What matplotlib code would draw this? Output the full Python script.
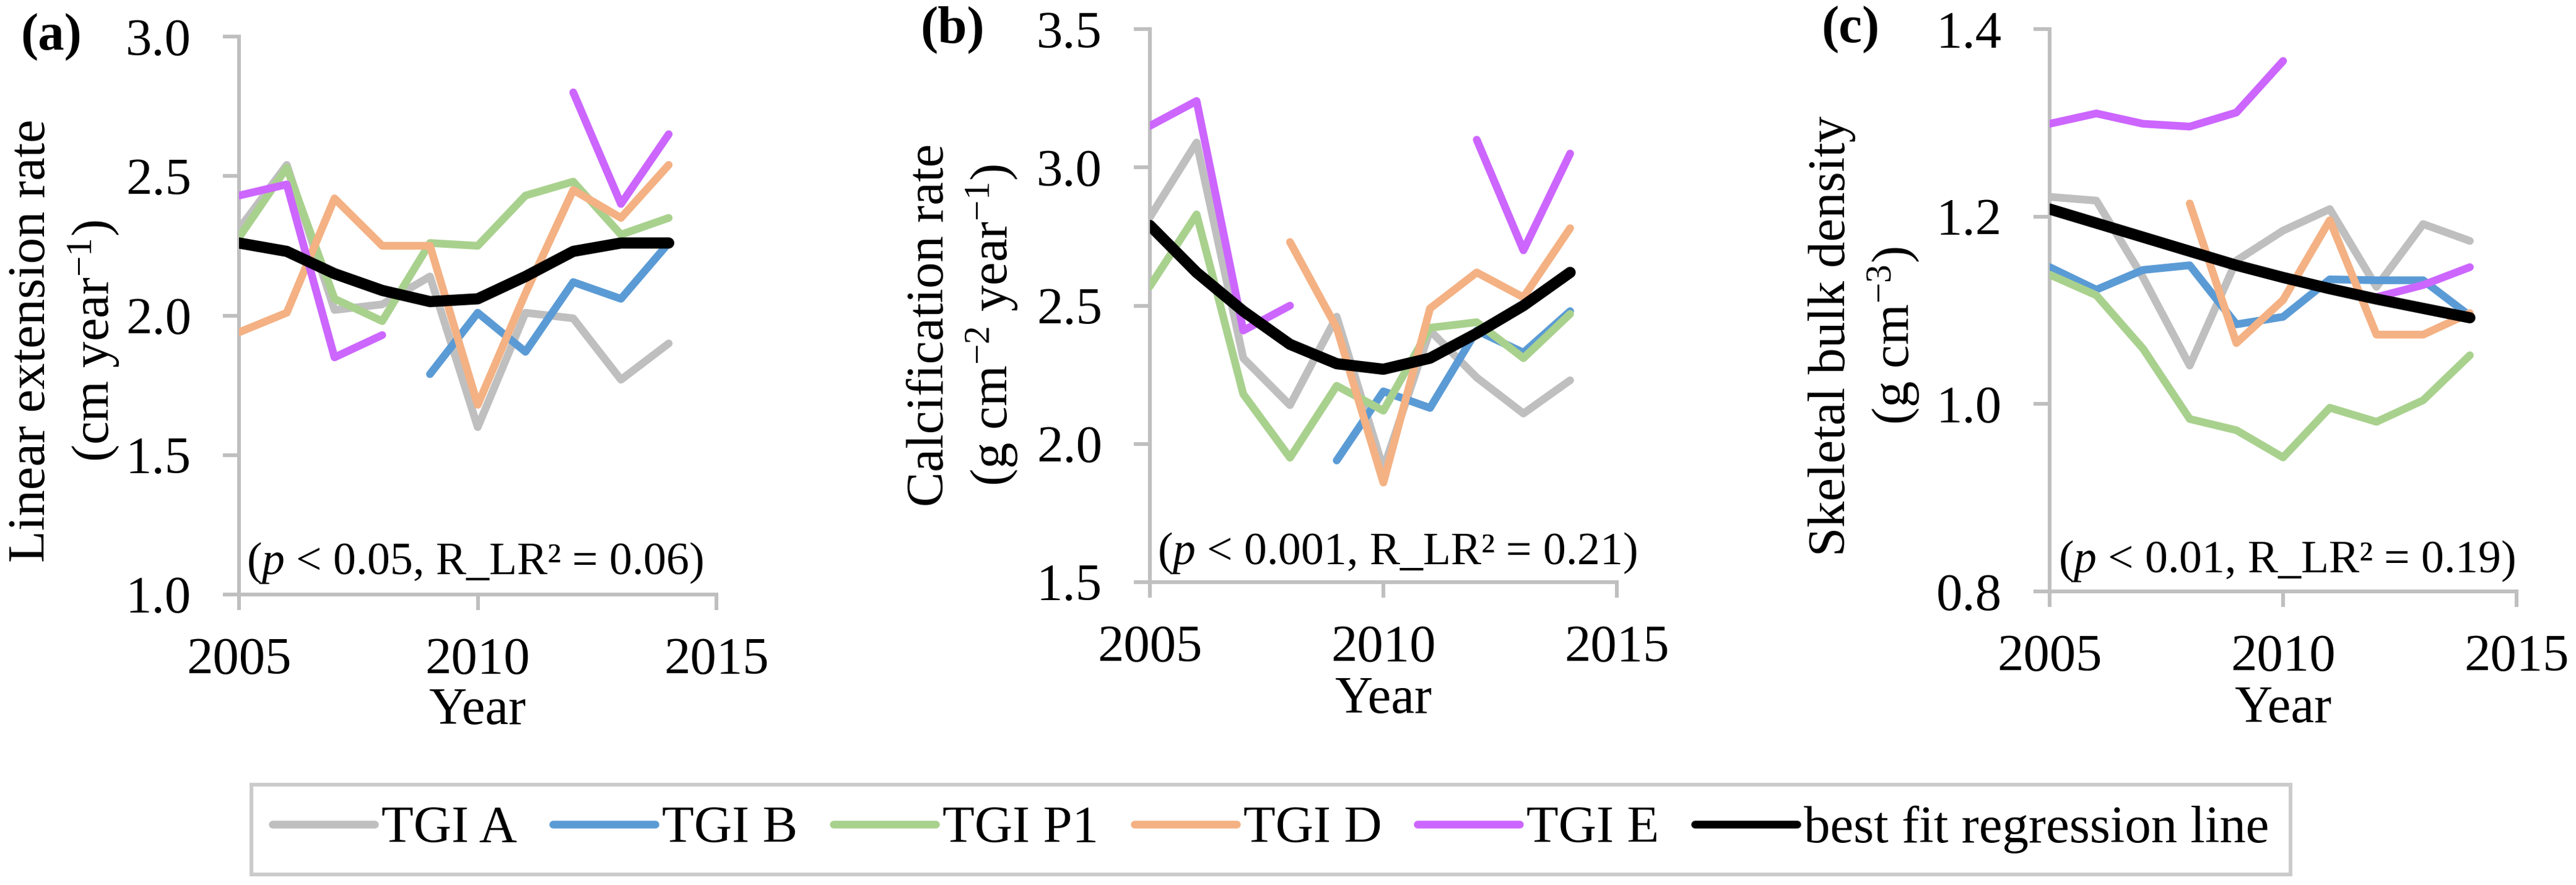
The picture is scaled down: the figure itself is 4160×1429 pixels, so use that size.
import numpy as np
import matplotlib
matplotlib.use("Agg")
import matplotlib.pyplot as plt
from matplotlib.lines import Line2D

plt.rcParams['font.family'] = ['Liberation Serif', 'DejaVu Serif']
plt.rcParams['mathtext.fontset'] = 'custom'
plt.rcParams['mathtext.rm'] = 'Liberation Serif'
plt.rcParams['mathtext.it'] = 'Liberation Serif:italic'
plt.rcParams['mathtext.bf'] = 'Liberation Serif:bold'

nan = np.nan
years = [2005, 2006, 2007, 2008, 2009, 2010, 2011, 2012, 2013, 2014]
series_names = ["TGI A", "TGI B", "TGI P1", "TGI D", "TGI E"]
fit_name = "best fit regression line"

# (a) Linear extension rate
ext_A = [2.31, 2.54, 2.02, 2.04, 2.14, 1.60, 2.01, 1.99, 1.77, 1.90]
ext_B = [nan, nan, nan, nan, 1.79, 2.01, 1.87, 2.12, 2.06, 2.26]
ext_P1 = [2.28, 2.53, 2.06, 1.98, 2.26, 2.25, 2.43, 2.48, 2.29, 2.35]
ext_D = [1.94, 2.01, 2.42, 2.25, 2.25, 1.68, 2.08, 2.45, 2.35, 2.54]
ext_E = [2.43, 2.47, 1.85, 1.93, nan, nan, nan, 2.80, 2.40, 2.65]
ext_fit = [2.26, 2.23, 2.15, 2.09, 2.05, 2.06, 2.14, 2.23, 2.26, 2.26]

# (b) Calcification rate
cal_A = [2.82, 3.09, 2.31, 2.14, 2.46, 1.91, 2.41, 2.24, 2.11, 2.23]
cal_B = [nan, nan, nan, nan, 1.94, 2.19, 2.13, 2.41, 2.33, 2.48]
cal_P1 = [2.57, 2.83, 2.18, 1.95, 2.21, 2.12, 2.42, 2.44, 2.31, 2.47]
cal_D = [nan, nan, nan, 2.73, 2.42, 1.86, 2.49, 2.62, 2.53, 2.78]
cal_E = [3.15, 3.24, 2.41, 2.50, nan, nan, nan, 3.10, 2.70, 3.05]
cal_fit = [2.79, 2.62, 2.48, 2.36, 2.29, 2.27, 2.31, 2.40, 2.50, 2.62]

# (c) Skeletal bulk density
den_A = [1.221, 1.217, 1.135, 1.041, 1.153, 1.185, 1.208, 1.125, 1.192, 1.174]
den_B = [1.146, 1.122, 1.143, 1.148, 1.085, 1.093, 1.133, 1.132, 1.132, 1.094]
den_P1 = [1.138, 1.116, 1.059, 0.984, 0.972, 0.943, 0.996, 0.981, 1.004, 1.052]
den_D = [nan, nan, nan, 1.214, 1.065, 1.111, 1.196, 1.074, 1.074, 1.097]
den_E = [1.299, 1.310, 1.299, 1.296, 1.311, 1.366, nan, 1.114, 1.127, 1.146]
den_fit = [1.208, 1.193, 1.178, 1.163, 1.148, 1.135, 1.123, 1.112, 1.102, 1.092]

x_ticks = [2005, 2010, 2015]
ylabels = ["Linear extension rate\n(cm year$^{-1}$)",
           "Calcification rate\n(g cm$^{-2}$ year$^{-1}$)",
           "Skeletal bulk density\n(g cm$^{-3}$)"]
annotations = ["($\\mathit{p}$ < 0.05, R_LR\u00b2 = 0.06)",
               "($\\mathit{p}$ < 0.001, R_LR\u00b2 = 0.21)",
               "($\\mathit{p}$ < 0.01, R_LR\u00b2 = 0.19)"]
panel_labels = ["(a)", "(b)", "(c)"]
yticks_list = [[1.0, 1.5, 2.0, 2.5, 3.0],
               [1.5, 2.0, 2.5, 3.0, 3.5],
               [0.8, 1.0, 1.2, 1.4]]

colors = ["#BFBFBF", "#5B9BD5", "#A9D18E", "#F4B183", "#CC66FF"]
spine_col = "#BFBFBF"

W, H = 4160, 1429
fig = plt.figure(figsize=(W / 100, H / 100), dpi=100)


def rect(l, r, t, b):
    return [l / W, 1 - b / H, (r - l) / W, (b - t) / H]


layout = [
    dict(rect=rect(386, 1157, 59, 960), ylab=(104, 550), plab=(83, 60)),
    dict(rect=rect(1857, 2611, 47, 940), ylab=(1555, 525), plab=(1538, 48)),
    dict(rect=rect(3310, 4064, 47, 955), ylab=(3011, 542), plab=(2988, 48)),
]
data = [
    [ext_A, ext_B, ext_P1, ext_D, ext_E, ext_fit],
    [cal_A, cal_B, cal_P1, cal_D, cal_E, cal_fit],
    [den_A, den_B, den_P1, den_D, den_E, den_fit],
]

FS = 61
for i in range(3):
    L = layout[i]
    ax = fig.add_axes(L['rect'])
    vals = data[i]
    for j in range(5):
        ax.plot(years, vals[j], color=colors[j], lw=9,
                solid_capstyle='round', solid_joinstyle='round', zorder=2 + j)
    ax.plot(years, vals[5], color='black', lw=13,
            solid_capstyle='round', solid_joinstyle='round', zorder=10)
    yt = yticks_list[i]
    ax.set_xlim(2005, 2015)
    ax.set_ylim(yt[0], yt[-1])
    ax.set_xticks(x_ticks)
    ax.set_yticks(yt)
    ax.set_yticklabels([f"{v:.1f}" for v in yt])
    for s in ['top', 'right']:
        ax.spines[s].set_visible(False)
    for s in ['left', 'bottom']:
        ax.spines[s].set_color(spine_col)
        ax.spines[s].set_linewidth(4.3)
        ax.spines[s].set_capstyle('projecting')
    ax.tick_params(axis='x', length=18, width=4.3, color=spine_col,
                   labelsize=FS, pad=32)
    ax.tick_params(axis='y', length=18.5, width=4.3, color=spine_col,
                   labelsize=FS, pad=37)
    ax.text(0.5, -0.232 if i != 1 else -0.236, "Year", transform=ax.transAxes,
            ha='center', va='baseline', fontsize=FS)
    bx = [0.016, 0.016, 0.0186][i]
    by = [0.0366, 0.0325, 0.034][i]
    ax.text(bx, by, annotations[i], transform=ax.transAxes, ha='left',
            va='baseline', fontsize=53, zorder=20)
    fig.text(L['ylab'][0] / W, 1 - L['ylab'][1] / H, ylabels[i], rotation=90,
             ha='center', va='center', multialignment='center',
             fontsize=FS, linespacing=1.25)
    fig.text(L['plab'][0] / W, 1 - L['plab'][1] / H, panel_labels[i],
             ha='center', va='center', fontsize=FS, fontweight='bold')

handles = [Line2D([0], [0], color=c, lw=9, solid_capstyle='round') for c in colors]
handles.append(Line2D([0], [0], color='black', lw=9, solid_capstyle='round'))
leg = fig.legend(handles, series_names + [fit_name], loc='center',
                 bbox_to_anchor=(2052.5 / W, 1 - 1339.5 / H), ncol=6,
                 fontsize=FS, frameon=True, fancybox=False,
                 edgecolor=spine_col, handlelength=1.95, handletextpad=0.13,
                 columnspacing=0.68, borderpad=0.4)
leg.get_frame().set_linewidth(4.3)

fig.savefig("out.png", dpi=100)
